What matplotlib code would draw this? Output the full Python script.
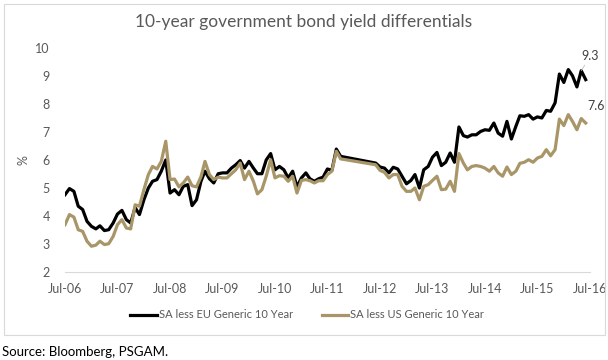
import numpy as np
import pandas as pd
import matplotlib
matplotlib.use("Agg")
import matplotlib.pyplot as plt
import matplotlib.dates as mdates
from matplotlib.patches import Rectangle

plt.rcParams['font.family'] = ['Lato', 'DejaVu Sans']

# ------------------------------
# Data (monthly, Jul-06 .. Jun-16, no data Nov-11 .. May-12)
meses = pd.date_range('2006-07-01', '2016-06-01', freq='MS')
sem_dados = (meses >= '2011-11-01') & (meses <= '2012-05-01')
datas = meses[~sem_dados]

eu_spread = [
    4.76, 4.98, 4.88, 4.35, 4.23, 3.81, 3.63, 3.54, 3.65, 3.48,
    3.51, 3.75, 4.07, 4.20, 3.87, 3.75, 4.30, 4.05, 4.58, 5.00,
    5.24, 5.30, 5.60, 6.00, 4.82, 4.94, 4.76, 5.06, 5.12, 4.37,
    4.58, 5.24, 5.60, 5.33, 5.18, 5.51, 5.54, 5.54, 5.71, 5.83,
    5.98, 5.71, 5.95, 5.71, 5.51, 5.51, 6.00, 6.23, 5.65, 5.77,
    5.65, 5.36, 5.60, 5.04, 5.36, 5.54, 5.33, 5.24, 5.33, 5.39,
    5.68, 5.63, 6.39, 6.13,
    5.89, 5.75, 5.71, 5.54, 5.74, 5.68, 5.42, 5.15, 5.27,
    5.48, 5.00, 5.65, 5.77, 6.10, 6.27, 5.80, 5.92, 6.25, 5.92,
    7.18, 6.87, 6.82, 6.90, 6.90, 7.02, 7.08, 7.06, 7.32, 6.96,
    6.85, 7.38, 6.75, 7.20, 7.58, 7.56, 7.62, 7.46, 7.54, 7.50,
    7.77, 7.74, 8.04, 9.07, 8.77, 9.23, 9.01, 8.61, 9.19, 8.87,
]

us_spread = [
    3.69, 4.05, 3.96, 3.51, 3.45, 3.10, 2.92, 2.96, 3.10, 2.98,
    3.01, 3.27, 3.69, 3.87, 3.57, 3.54, 4.40, 4.35, 4.94, 5.48,
    5.77, 5.68, 5.95, 6.67, 5.30, 5.32, 5.04, 5.18, 5.39, 5.08,
    5.04, 5.40, 5.95, 5.48, 5.30, 5.39, 5.36, 5.36, 5.51, 5.65,
    5.89, 5.30, 5.60, 5.24, 4.79, 4.94, 5.42, 6.01, 5.36, 5.44,
    5.42, 5.24, 5.42, 4.82, 5.27, 5.30, 5.26, 5.18, 5.26, 5.26,
    5.48, 5.60, 6.31, 6.04,
    5.83, 5.63, 5.56, 5.36, 5.48, 5.48, 5.06, 4.88, 4.88,
    5.00, 4.58, 5.06, 5.12, 5.27, 5.42, 4.94, 4.96, 5.24, 4.88,
    6.23, 5.89, 5.65, 5.77, 5.80, 5.77, 5.71, 5.60, 5.77, 5.54,
    5.42, 5.75, 5.48, 5.60, 5.88, 5.92, 6.01, 5.92, 6.07, 6.13,
    6.37, 6.15, 6.37, 7.46, 7.23, 7.62, 7.38, 7.08, 7.48, 7.32,
]

nomes = ['SA less EU Generic 10 Year', 'SA less US Generic 10 Year']
cores = ['#000000', '#A99668']
rotulos = ['9.3', '7.6']
titulo = '10-year government bond yield differentials'

# ------------------------------
# Figure
fig = plt.figure(figsize=(6.08, 3.6), dpi=100)
ax = fig.add_axes([65/608, 88/360, 525/608, 224/360])

# chart border
fig.patches.append(Rectangle((4/608, 25/360), 601/608, 331/360, transform=fig.transFigure,
                             fill=False, edgecolor='#D9D9D9', linewidth=0.8))

ax.plot(datas, eu_spread, color=cores[0], linewidth=2.3, label=nomes[0])
ax.plot(datas, us_spread, color=cores[1], linewidth=2.3, label=nomes[1])

ax.set_ylim(2, 10)
ax.set_yticks(range(2, 11))
ax.set_xlim(pd.Timestamp('2006-07-01'), pd.Timestamp('2016-07-01'))
ax.xaxis.set_major_locator(mdates.MonthLocator(bymonth=7))
ax.xaxis.set_major_formatter(mdates.DateFormatter('%b-%y'))

for s in ['top', 'right', 'left']:
    ax.spines[s].set_visible(False)
ax.spines['bottom'].set_color('#D9D9D9')
ax.spines['bottom'].set_linewidth(0.8)
ax.tick_params(length=0, labelsize=9, colors='#595959', pad=8)
ax.tick_params(axis='y', pad=11)
ax.set_ylabel('%', fontsize=9, color='#595959', labelpad=4)

# value labels
ax.annotate(rotulos[0], xy=(datas[-2], eu_spread[-2]), xytext=(6.5, 6), textcoords='offset points',
            fontsize=9, color='#404040', ha='center', va='bottom',
            arrowprops=dict(arrowstyle='-', color='#BFBFBF', linewidth=0.6, shrinkA=0, shrinkB=0))
ax.annotate(rotulos[1], xy=(datas[-1], us_spread[-1]), xytext=(1.5, 8), textcoords='offset points',
            fontsize=9, color='#404040', ha='left', va='bottom')

fig.text(304/608, 1 - 22/360, titulo, ha='center', va='center', fontsize=12.5, color='#595959')
fig.legend(loc='center', bbox_to_anchor=(307/608, 1 - 315/360), ncol=2, frameon=False,
           fontsize=8, handlelength=2.4, handletextpad=0.15, columnspacing=2.6,
           labelcolor='#595959')
fig.text(2/608, 1 - 352/360, 'Source: Bloomberg, PSGAM.', ha='left', va='center', fontsize=9.5, color='#000000')

fig.savefig('out.png', dpi=100)
